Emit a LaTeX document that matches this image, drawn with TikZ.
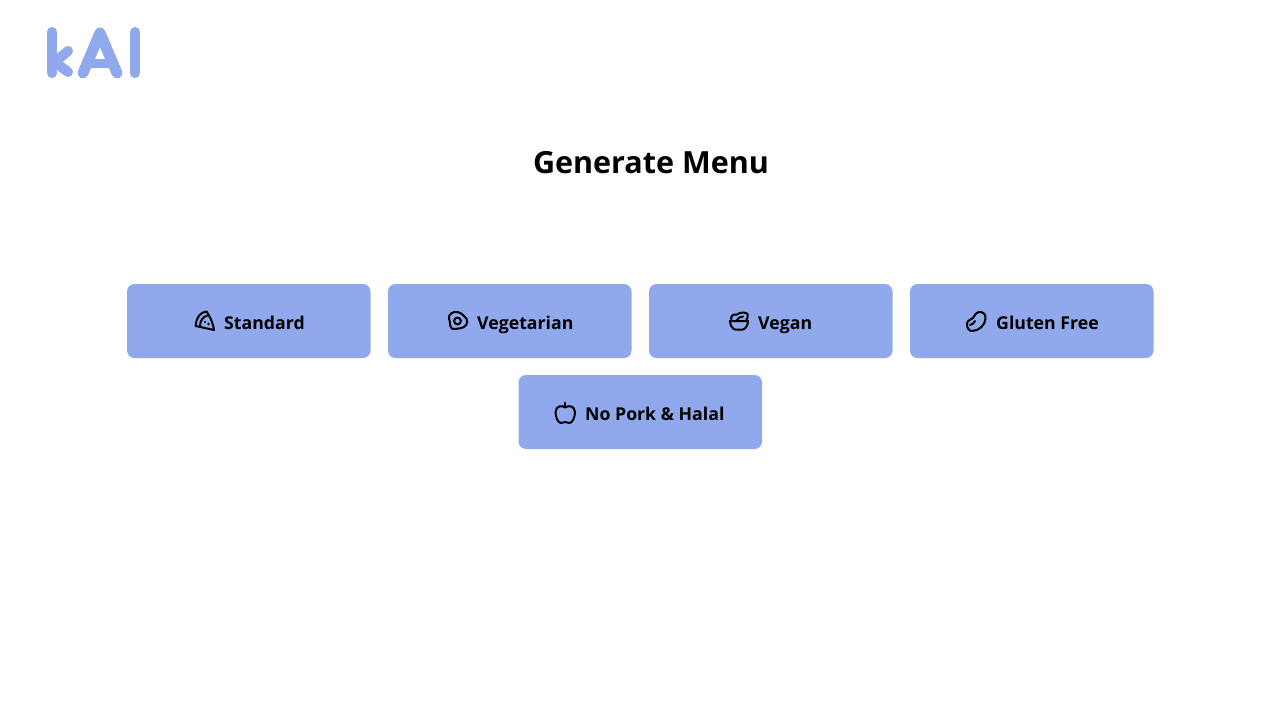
\documentclass[tikz,border=0pt]{standalone}
\usepackage{fontspec}
\setmainfont{Open Sans}
\definecolor{kblue}{HTML}{90A9EC}
\tikzset{
  menubtn/.style={fill=kblue,rounded corners=7.5pt,minimum width=243.5pt,minimum height=74pt,inner sep=0pt,draw=none},
  btnlabel/.style={anchor=base west,inner sep=0pt,font=\bfseries\fontsize{17.7}{20}\selectfont,text=black},
  logostroke/.style={draw=kblue,line width=10pt,line cap=round,line join=round},
  iconline/.style={draw=black,line width=2pt,line cap=round,line join=round},
}
\begin{document}
\begin{tikzpicture}[x=1pt,y=-1pt]
\useasboundingbox (0,0) rectangle (1280,720);
\fill[white] (0,0) rectangle (1280,720);
% logo
\draw[logostroke] (52,32) -- (52,73);
\draw[logostroke] (68,51) -- (55,62) -- (68,72);
\draw[logostroke,line width=11pt] (83,73) -- (100,33) -- (117,73);
\draw[logostroke,line width=9pt] (89,63.5) -- (111,63.5);
\draw[logostroke] (135,32) -- (135,73);
\node[anchor=base,inner sep=0pt,font=\bfseries\fontsize{30.5}{32}\selectfont] (title) at (651,173) {Generate Menu};
% buttons
\node[menubtn] (b1) at (248.75,321) {};
\node[menubtn] (b2) at (509.75,321) {};
\node[menubtn] (b3) at (770.75,321) {};
\node[menubtn] (b4) at (1031.75,321) {};
\node[menubtn] (b5) at (640.25,412) {};
\node[btnlabel] (l1) at (224,329) {Standard};
\node[btnlabel] (l2) at (477,329) {Vegetarian};
\node[btnlabel] (l3) at (758,329) {Vegan};
\node[btnlabel] (l4) at (996,329) {Gluten Free};
\node[btnlabel] (l5) at (585,420) {No Pork \& Halal};
% pizza
\begin{scope}[shift={(190,306)}]
\draw[iconline] (5.7,20) .. controls (6,12) and (10,6) .. (16.5,5.5) .. controls (19,9) and (23,16) .. (24,24) -- cycle;
\draw[iconline] (10,20) .. controls (10,15) and (13,10.5) .. (17.5,9.5);
\fill (18.5,18) circle (1.3) (15,16) circle (1.2);
\end{scope}
% egg
\begin{scope}[shift={(443,306)}]
\draw[iconline] (6,13) .. controls (5,8) and (10,5.5) .. (14,6) .. controls (18,6.5) and (20,9) .. (22,11) .. controls (25,13) and (25,19) .. (21,21) .. controls (17,23) and (15,22) .. (12,23) .. controls (8,24) and (7,20) .. (7,17) .. controls (7,15) and (6.2,14) .. (6,13) -- cycle;
\draw[iconline] (14.5,15) circle (3.4);
\end{scope}
% salad bowl
\begin{scope}[shift={(724,306)}]
\draw[iconline] (6,15) -- (24,15) .. controls (24,20) and (21,23) .. (19,23.5) -- (11,23.5) .. controls (9,23) and (6,20) .. (6,15) -- cycle;
\draw[iconline] (7.5,14.5) .. controls (6,10) and (9,8) .. (13,8.5) .. controls (16,6) and (22,6) .. (23.5,8) .. controls (24,10) and (23.5,13) .. (22,15);
\draw[iconline] (12.5,14.5) .. controls (13.5,12) and (16,11) .. (19,10.5);
\end{scope}
% bean
\begin{scope}[shift={(961,306)}]
\draw[iconline] (6,18) .. controls (6,14) and (10,14) .. (12,12) .. controls (14,9) and (15,6) .. (19,6) .. controls (23,6) and (25,9) .. (24.5,13) .. controls (24,19) and (18,25) .. (11,25) .. controls (8,25) and (6,22) .. (6,18) -- cycle;
\draw[iconline] (9,19) .. controls (11,17) and (14,18) .. (14,15);
\end{scope}
% apple
\begin{scope}[shift={(550,397)}]
\draw[iconline] (15.3,10.5) .. controls (12,8) and (6,8.5) .. (5.5,15) .. controls (5.5,20) and (8,26) .. (11,26) .. controls (13,26) and (14,25) .. (15.3,25) .. controls (16.5,25) and (17.5,26) .. (19.5,26) .. controls (22.5,26) and (25,20) .. (25,15) .. controls (24.5,8.5) and (18.5,8) .. (15.3,10.5) -- cycle;
\draw[iconline] (15.3,10) -- (15.3,5.5);
\end{scope}
\end{tikzpicture}
\end{document}
